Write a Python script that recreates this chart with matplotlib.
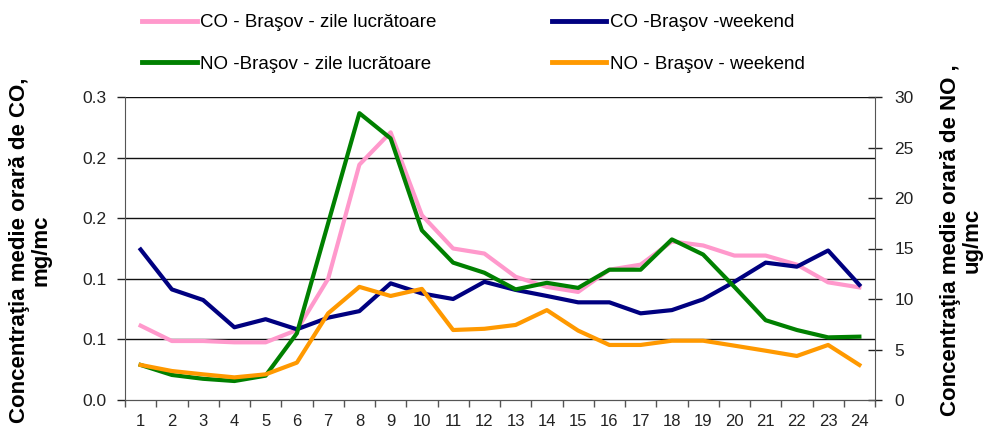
import matplotlib
matplotlib.use("Agg")
import matplotlib.pyplot as plt
from matplotlib.ticker import FixedLocator, FuncFormatter
from matplotlib.lines import Line2D

plt.rcParams['font.family'] = ['Liberation Sans', 'DejaVu Sans']

hours = list(range(1, 25))
co_workday = [0.0736, 0.0584, 0.0584, 0.0571, 0.0571, 0.0693, 0.120, 0.233, 0.265, 0.183,
              0.150, 0.145, 0.122, 0.112, 0.107, 0.129, 0.134, 0.157, 0.153, 0.143,
              0.143, 0.134, 0.1165, 0.1115]
co_weekend = [0.149, 0.1095, 0.099, 0.072, 0.080, 0.070, 0.0815, 0.088, 0.1155, 0.1055,
              0.100, 0.117, 0.109, 0.103, 0.0967, 0.0967, 0.0858, 0.089, 0.0997, 0.117,
              0.136, 0.132, 0.148, 0.114]
no_workday = [3.47, 2.48, 2.1, 1.88, 2.41, 6.6, 17.5, 28.4, 25.9, 16.8,
              13.6, 12.6, 10.95, 11.6, 11.1, 12.9, 12.9, 15.9, 14.4, 11.2,
              7.9, 6.93, 6.2, 6.27]
no_weekend = [3.47, 2.87, 2.54, 2.24, 2.54, 3.7, 8.58, 11.2, 10.3, 11.0,
              6.93, 7.05, 7.43, 8.9, 6.87, 5.45, 5.45, 5.87, 5.87, 5.38,
              4.88, 4.36, 5.45, 3.47]

labels = ["CO - Braşov - zile lucrătoare", "CO -Braşov -weekend",
          "NO -Braşov - zile lucrătoare", "NO - Braşov - weekend"]
colors = ["#FF99CC", "#000080", "#008000", "#FF9900"]

left_ticks = [0.0, 0.06, 0.12, 0.18, 0.24, 0.30]
right_ticks = [0, 5, 10, 15, 20, 25, 30]

fig = plt.figure(figsize=(9.88, 4.28), dpi=100)
ax = fig.add_axes([125/988, 28/428, 750/988, 303/428])
ax2 = ax.twinx()

lw = 3.0
l1, = ax.plot(hours, co_workday, color=colors[0], lw=lw)
l2, = ax.plot(hours, co_weekend, color=colors[1], lw=lw)
l3, = ax2.plot(hours, no_workday, color=colors[2], lw=lw)
l4, = ax2.plot(hours, no_weekend, color=colors[3], lw=lw)

ax.set_xlim(0.5, 24.5)
ax.set_ylim(0, 0.3)
ax2.set_ylim(0, 30)

ax.yaxis.set_major_locator(FixedLocator(left_ticks))
ax.yaxis.set_major_formatter(FuncFormatter(lambda v, p: f"{v:.1f}"))
ax2.yaxis.set_major_locator(FixedLocator(right_ticks))

ax.set_xticks(hours)
ax.set_xticklabels([str(h) for h in hours])
ax.set_xticks([h + 0.5 for h in range(0, 25)], minor=True)
ax.tick_params(axis='x', which='major', length=0, pad=10, labelsize=12, colors='#222222')
ax.tick_params(axis='x', which='minor', length=5, width=1, direction='out', color='#555555')
ax.tick_params(axis='y', length=6, width=1, direction='out', labelsize=12.5, colors='#222222', pad=7)
ax2.tick_params(axis='y', length=10, width=1, direction='inout', labelsize=12.5, colors='#222222', pad=9)

for t in left_ticks[1:]:
    ax.axhline(t, color='#111111', lw=1.0, zorder=0.5)

for a in (ax, ax2):
    a.spines['top'].set_visible(False)
    for s in ('left', 'right', 'bottom'):
        a.spines[s].set_color('#555555')
ax2.spines['left'].set_visible(False)
ax.spines['right'].set_visible(False)

fig.text(30/988, 1 - 250/428, "Concentraţia medie orară de CO,\nmg/mc", rotation=90,
         ha='center', va='center', multialignment='center', fontsize=16,
         fontweight='bold', linespacing=1.05)
fig.text(961/988, 1 - 240/428, "Concentraţia medie orară de NO ,\nug/mc", rotation=90,
         ha='center', va='center', multialignment='center', fontsize=16,
         fontweight='bold', linespacing=1.05)

handles = [Line2D([], [], color=c, lw=3.5) for c in colors]
order = [0, 2, 1, 3]
leg = fig.legend([handles[i] for i in order], [labels[i] for i in order], ncol=2,
                 loc='upper left', bbox_to_anchor=(129/988, 1.0 - 1/428),
                 frameon=False, handlelength=2.9, handletextpad=0.2, columnspacing=6.15,
                 labelspacing=1.3, fontsize=13.5, borderaxespad=0.3)

fig.savefig("out.png", dpi=100)
